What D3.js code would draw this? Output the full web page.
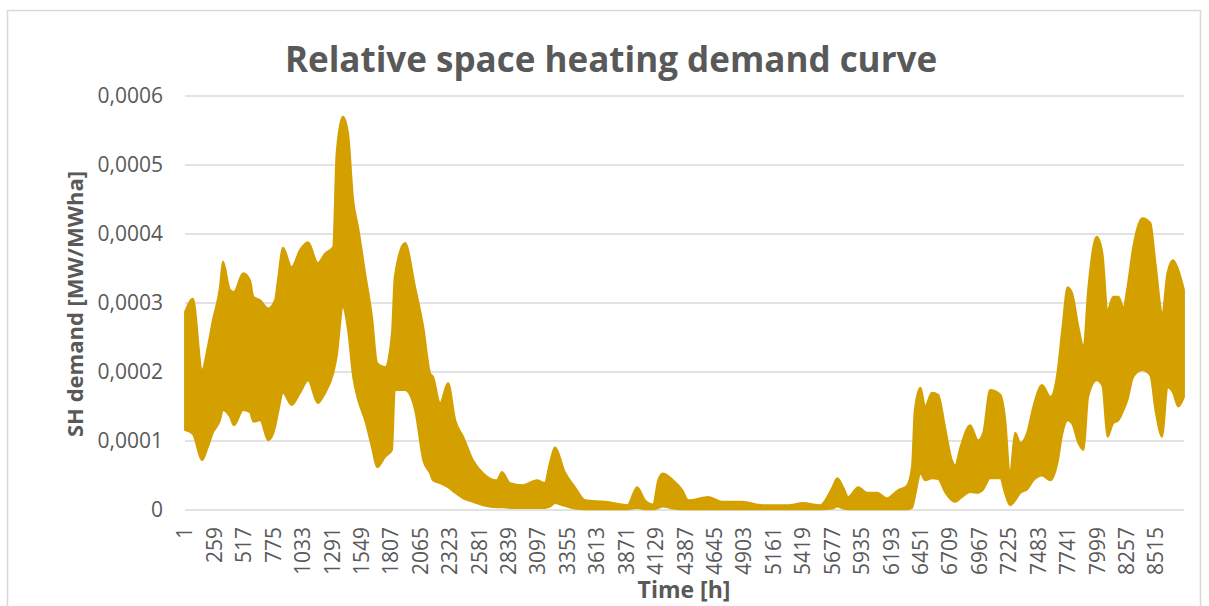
<!DOCTYPE html>
<html>
<head>
<meta charset="utf-8">
<title>Relative space heating demand curve</title>
<script src="https://d3js.org/d3.v7.min.js"></script>
<style>
  body { margin: 0; background: #fff; }
  text { font-family: "Open Sans", "Noto Sans", sans-serif; fill: #595959; }
</style>
</head>
<body>
<script>
// envelope of the hourly curve (units of 1e-4 MW/MWha)
var hours = [1, 70, 150, 200, 245, 307, 333, 395, 430, 510, 570, 600, 660, 730, 790, 815, 860, 935, 1010, 1080,
  1165, 1230, 1300, 1330, 1385, 1430, 1475, 1518, 1580, 1640, 1685, 1755, 1815, 1840, 1930, 2018, 2090, 2150, 2175, 2237,
  2307, 2370, 2440, 2525, 2615, 2735, 2780, 2850, 2965, 3085, 3155, 3200, 3245, 3330, 3420, 3510, 3685, 3880, 3965, 4035,
  4105, 4150, 4190, 4280, 4360, 4415, 4590, 4710, 4885, 5060, 5290, 5420, 5570, 5675, 5720, 5775, 5815, 5905, 5980, 6070,
  6155, 6255, 6330, 6375, 6400, 6450, 6490, 6550, 6605, 6665, 6725, 6755, 6800, 6885, 6955, 7000, 7060, 7150, 7190, 7235,
  7280, 7325, 7385, 7440, 7515, 7590, 7650, 7695, 7740, 7780, 7835, 7880, 7920, 7995, 8045, 8090, 8140, 8185, 8230, 8265,
  8315, 8395, 8465, 8510, 8570, 8615, 8665, 8710, 8760];
var upper = [2.87, 3.06, 2.03, 2.36, 2.75, 3.23, 3.6, 3.19, 3.16, 3.43, 3.33, 3.09, 3.04, 2.92, 3.04, 3.33, 3.8, 3.52, 3.77, 3.88,
  3.58, 3.72, 3.81, 5.17, 5.7, 5.46, 4.49, 4.1, 3.43, 2.8, 2.13, 2.07, 2.56, 3.38, 3.87, 3.23, 2.65, 1.98, 1.93, 1.55,
  1.84, 1.3, 1.06, 0.72, 0.53, 0.43, 0.55, 0.39, 0.36, 0.43, 0.39, 0.68, 0.91, 0.55, 0.33, 0.14, 0.12, 0.07, 0.33, 0.14,
  0.08, 0.43, 0.53, 0.43, 0.29, 0.14, 0.19, 0.12, 0.12, 0.07, 0.07, 0.1, 0.07, 0.32, 0.46, 0.32, 0.19, 0.33, 0.25, 0.25,
  0.17, 0.29, 0.35, 0.62, 1.45, 1.77, 1.5, 1.7, 1.67, 1.2, 0.72, 0.65, 0.91, 1.23, 1.01, 1.12, 1.74, 1.67, 1.35, 0.53,
  1.12, 0.97, 1.12, 1.5, 1.81, 1.64, 1.98, 2.65, 3.23, 3.14, 2.65, 2.36, 3.19, 3.96, 3.72, 2.9, 3.09, 3.09, 2.94, 3.23,
  3.81, 4.23, 4.16, 3.58, 2.86, 3.43, 3.62, 3.48, 3.19];
var lower = [1.16, 1.1, 0.72, 0.91, 1.12, 1.3, 1.45, 1.35, 1.23, 1.45, 1.42, 1.28, 1.3, 1.01, 1.2, 1.4, 1.7, 1.52, 1.7, 1.88,
  1.55, 1.7, 1.98, 2.22, 2.94, 2.61, 1.93, 1.6, 1.3, 0.91, 0.62, 0.77, 0.87, 1.74, 1.74, 1.45, 0.72, 0.53, 0.43, 0.39,
  0.33, 0.25, 0.17, 0.12, 0.07, 0.04, 0.04, 0.03, 0.03, 0.03, 0.03, 0.05, 0.1, 0.06, 0.02, 0.01, 0.01, 0.01, 0.03, 0.01,
  0.01, 0.03, 0.05, 0.02, 0.01, 0.01, 0.01, 0.01, 0.01, 0.01, 0.01, 0.01, 0.01, 0.02, 0.05, 0.02, 0.01, 0.01, 0.01, 0.01,
  0.01, 0.01, 0.01, 0.03, 0.19, 0.53, 0.43, 0.46, 0.45, 0.26, 0.14, 0.12, 0.17, 0.26, 0.25, 0.3, 0.46, 0.46, 0.25, 0.07,
  0.14, 0.25, 0.3, 0.43, 0.5, 0.43, 0.68, 1.12, 1.3, 1.25, 0.97, 0.87, 1.64, 1.88, 1.8, 1.06, 1.26, 1.3, 1.45, 1.6,
  1.93, 2.03, 1.95, 1.45, 1.06, 1.78, 1.7, 1.5, 1.64];

var xTicks = d3.range(1, 8761, 258);
var yTicks = [0, 0.0001, 0.0002, 0.0003, 0.0004, 0.0005, 0.0006];

var W = 1209, H = 606;
var svg = d3.select("body").append("svg").attr("width", W).attr("height", H);

svg.append("rect")
  .attr("x", 7.5).attr("y", 10.5).attr("width", 1193).attr("height", 620)
  .attr("fill", "#fff").attr("stroke", "#d9d9d9").attr("stroke-width", 1.5);

var x = d3.scaleLinear().domain([0.5, 8760.5]).range([185, 1184]);
var y = d3.scaleLinear().domain([0, 0.0006]).range([510, 96]);

// gridlines
svg.append("g").selectAll("line").data(yTicks).enter().append("line")
  .attr("x1", 185).attr("x2", 1184)
  .attr("y1", function(d){ return y(d); }).attr("y2", function(d){ return y(d); })
  .attr("stroke", "#d9d9d9").attr("stroke-width", 1.5);

// y tick labels
svg.append("g").selectAll("text").data(yTicks).enter().append("text")
  .attr("x", 163).attr("y", function(d){ return y(d); })
  .attr("dy", "0.35em").attr("text-anchor", "end")
  .style("font-size", "21px")
  .text(function(d){ return d === 0 ? "0" : d3.format(".4f")(d).replace(".", ","); });

// band of the demand curve
var rows = hours.map(function(h, i){ return { h: h, hi: upper[i] * 1e-4, lo: lower[i] * 1e-4 }; });
var area = d3.area()
  .x(function(d){ return x(d.h); })
  .y0(function(d){ return y(d.lo); })
  .y1(function(d){ return y(d.hi); })
  .curve(d3.curveMonotoneX);
svg.append("path").datum(rows)
  .attr("d", area)
  .attr("fill", "#d4a000")
  .attr("stroke", "#d4a000").attr("stroke-width", 2).attr("stroke-linejoin", "round");

// x tick labels, rotated
svg.append("g").selectAll("text").data(xTicks).enter().append("text")
  .attr("transform", function(d){ return "translate(" + x(d) + ",527) rotate(-90)"; })
  .attr("dy", "0.35em").attr("text-anchor", "end")
  .style("font-size", "21px")
  .text(function(d){ return d; });

// titles
svg.append("text")
  .attr("x", 611).attr("y", 72).attr("text-anchor", "middle")
  .style("font-size", "35px").style("font-weight", "bold")
  .text("Relative space heating demand curve");

svg.append("text")
  .attr("transform", "translate(83,304) rotate(-90)")
  .attr("text-anchor", "middle")
  .style("font-size", "22px").style("font-weight", "bold")
  .text("SH demand [MW/MWha]");

svg.append("text")
  .attr("x", 684).attr("y", 598).attr("text-anchor", "middle")
  .style("font-size", "23px").style("font-weight", "bold")
  .text("Time [h]");
</script>
</body>
</html>
